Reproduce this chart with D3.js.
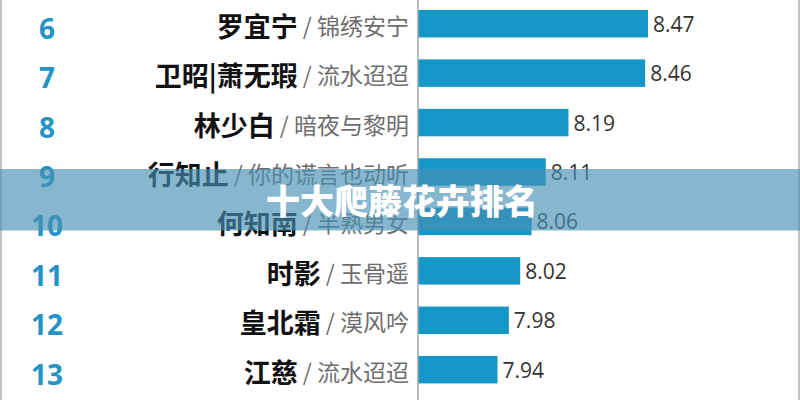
<!DOCTYPE html>
<html>
<head>
<meta charset="utf-8">
<script src="https://cdn.jsdelivr.net/npm/d3@7"></script>
<style>
  html, body { margin: 0; padding: 0; background: #fff; }
  svg { display: block; }
</style>
</head>
<body>
<svg id="chart" width="800" height="400"></svg>
<script>
// data {{{ //
const ranks  = [6, 7, 8, 9, 10, 11, 12, 13];
const names  = ["罗宜宁", "卫昭|萧无瑕", "林少白", "行知止", "何知南", "时影", "皇北霜", "江慈"];
const works  = ["锦绣安宁", "流水迢迢", "暗夜与黎明", "你的谎言也动听", "半熟男女", "玉骨遥", "漠风吟", "流水迢迢"];
const scores = [8.47, 8.46, 8.19, 8.11, 8.06, 8.02, 7.98, 7.94];
const title  = "十大爬藤花卉排名";
// }}} data //

const width = 800, height = 400;
const svg = d3.select("#chart");

const rows = ranks.map((r, i) => ({ rank: r, name: names[i], work: works[i], score: scores[i] }));

// scales {{{ //
const xMin = 7.66; // the bars are cut, axis does not start at zero
const x = d3.scaleLinear().domain([xMin, d3.max(scores)]).range([418, 648]);
const y = d3.scaleBand().domain(ranks).range([-1, 394.4])
  .paddingInner(0.444).paddingOuter(0.222);
// }}} scales //

// frame lines left / right
svg.append("line").attr("x1", 1).attr("x2", 1).attr("y1", 0).attr("y2", height)
  .attr("stroke", "#c4c4c4").attr("stroke-width", 2);
svg.append("line").attr("x1", width - 1).attr("x2", width - 1).attr("y1", 0).attr("y2", height)
  .attr("stroke", "#c4c4c4").attr("stroke-width", 2);

// bars {{{ //
svg.append("g").selectAll("rect")
  .data(rows)
  .enter().append("rect")
  .attr("x", x(xMin))
  .attr("y", d => y(d.rank))
  .attr("width", d => x(d.score) - x(xMin))
  .attr("height", y.bandwidth())
  .attr("fill", "#1598c8");

svg.append("g").selectAll("text")
  .data(rows)
  .enter().append("text")
  .attr("x", d => x(d.score) + 5)
  .attr("y", d => y(d.rank) + y.bandwidth() / 2)
  .attr("dominant-baseline", "central")
  .style("font-family", "'Open Sans', 'Noto Sans', sans-serif")
  .style("font-size", "21px")
  .attr("fill", "#333")
  .text(d => d.score.toFixed(2));
// }}} bars //

// axis line
svg.append("line")
  .attr("x1", x(xMin)).attr("x2", x(xMin))
  .attr("y1", 0).attr("y2", height)
  .attr("stroke", "#a3a3a3").attr("stroke-width", 1.5);

// rank numbers {{{ //
svg.append("g").selectAll("text")
  .data(rows)
  .enter().append("text")
  .attr("x", 47)
  .attr("y", d => y(d.rank) + y.bandwidth() / 2 + 15)
  .attr("text-anchor", "middle")
  .style("font-family", "'Open Sans', sans-serif")
  .style("font-weight", 700)
  .style("font-size", "28px")
  .attr("fill", "#2494c4")
  .text(d => d.rank);
// }}} rank numbers //

// name / work labels {{{ //
const labels = svg.append("g").selectAll("text")
  .data(rows)
  .enter().append("text")
  .attr("x", 409)
  .attr("y", d => y(d.rank) + y.bandwidth() / 2 + 1)
  .attr("text-anchor", "end")
  .attr("dominant-baseline", "central")
  .style("font-family", "'Noto Sans CJK SC', sans-serif");

labels.append("tspan")
  .style("font-weight", 700)
  .style("font-size", "27px")
  .attr("fill", "#111")
  .text(d => d.name);

labels.append("tspan")
  .style("font-size", "23px")
  .attr("fill", "#6e6e6e")
  .text(d => "\u00a0/\u00a0" + d.work);
// }}} name / work labels //

// title band {{{ //
svg.append("rect")
  .attr("x", 0).attr("y", 169)
  .attr("width", width).attr("height", 61.5)
  .attr("fill", "rgba(70,145,180,0.65)");

svg.append("text")
  .attr("x", 402)
  .attr("y", 199)
  .attr("text-anchor", "middle")
  .attr("dominant-baseline", "central")
  .style("font-family", "'Noto Sans CJK SC', sans-serif")
  .style("font-weight", 900)
  .style("font-size", "34px")
  .attr("fill", "#fff")
  .text(title);
// }}} title band //
</script>
</body>
</html>
